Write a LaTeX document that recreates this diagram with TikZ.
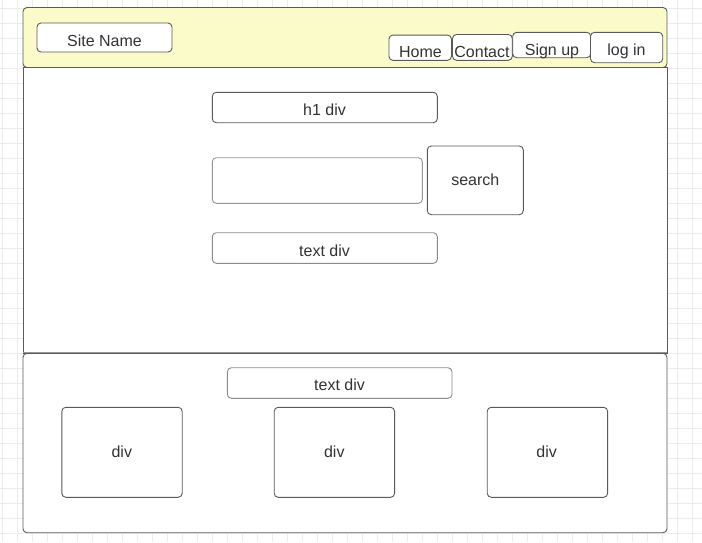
\documentclass[tikz,border=0pt]{standalone}
\usepackage{fontspec}
\setmainfont{Liberation Sans}
\definecolor{gridc}{RGB}{236,236,236}
\definecolor{linec}{RGB}{90,90,90}
\definecolor{lightline}{RGB}{150,150,150}
\definecolor{textc}{RGB}{51,51,51}
\definecolor{headfill}{RGB}{251,250,201}
\tikzset{
  box/.style={draw=linec, line width=0.9pt, rounded corners=4pt, fill=white, inner sep=0pt},
  txt/.style={text=textc, font=\fontsize{16}{19}\selectfont, inner sep=0pt, anchor=base},
}
\begin{document}
\begin{tikzpicture}[x=1pt,y=-1pt]
\useasboundingbox (0,0) rectangle (702,542);
\fill[white] (0,0) rectangle (702,542);
% grid
\foreach \x in {2.5,17.5,...,700}
  \draw[gridc, line width=0.7pt] (\x,0) -- (\x,542);
\foreach \y in {8,23,...,540}
  \draw[gridc, line width=0.7pt] (0,\y) -- (702,\y);
% page sections
\draw[draw=linec, line width=0.9pt, fill=white] (23,67.5) rectangle (667,353.3);
\node[box, fill=headfill, minimum width=644pt, minimum height=60pt] (header) at (345,37.5) {};
\node[box, draw=linec, minimum width=644pt, minimum height=179.4pt] (footer) at (345,443) {};
\draw[lightline, line width=1pt] (footer.north west) -- (footer.north east);
% header items
\node[box, minimum width=135pt, minimum height=29pt] (site) at (104.5,37.5) {};
\node[txt] (tsite) at (104.5,46) {Site Name};
\node[box, minimum width=62.5pt, minimum height=25.3pt] (home) at (420.2,47.7) {};
\node[txt] (thome) at (420.5,57.3) {Home};
\node[box, minimum width=59.8pt, minimum height=25.8pt] (contact) at (482.4,47.4) {};
\node[txt] (tcontact) at (482,57.3) {Contact};
\node[box, minimum width=78pt, minimum height=25.4pt] (signup) at (551.7,45) {};
\node[txt] (tsignup) at (552,55) {Sign up};
\node[box, minimum width=72.2pt, minimum height=30.4pt] (login) at (626.6,47.5) {};
\node[txt] (tlogin) at (626.5,55) {log in};
% body items
\node[box, minimum width=225pt, minimum height=30.4pt] (h1) at (324.8,107.5) {};
\node[txt] (th1) at (324.5,115.7) {h1 div};
\node[box, draw=lightline, minimum width=210pt, minimum height=45.6pt] (input) at (317.3,180.5) {};
\node[box, minimum width=96pt, minimum height=68.7pt] (search) at (475.3,180.35) {};
\node[txt] (tsearch) at (475.3,185) {search};
\node[box, draw=lightline!80!linec, minimum width=225pt, minimum height=30.6pt] (textdiv) at (324.8,248) {};
\node[txt] (ttextdiv) at (324.5,256) {text div};
% footer items
\node[box, draw=lightline!80!linec, minimum width=224.6pt, minimum height=30.6pt] (ftext) at (339.7,383) {};
\node[txt] (tftext) at (339.5,390.7) {text div};
\node[box, minimum width=120.4pt, minimum height=90pt] (div1) at (122,452.3) {};
\node[txt] (tdiv1) at (121.8,457.3) {div};
\node[box, minimum width=120.4pt, minimum height=90pt] (div2) at (334.4,452.3) {};
\node[txt] (tdiv2) at (334.3,457.3) {div};
\node[box, minimum width=120.4pt, minimum height=90pt] (div3) at (547.45,452.3) {};
\node[txt] (tdiv3) at (546.7,457.3) {div};
\end{tikzpicture}
\end{document}
